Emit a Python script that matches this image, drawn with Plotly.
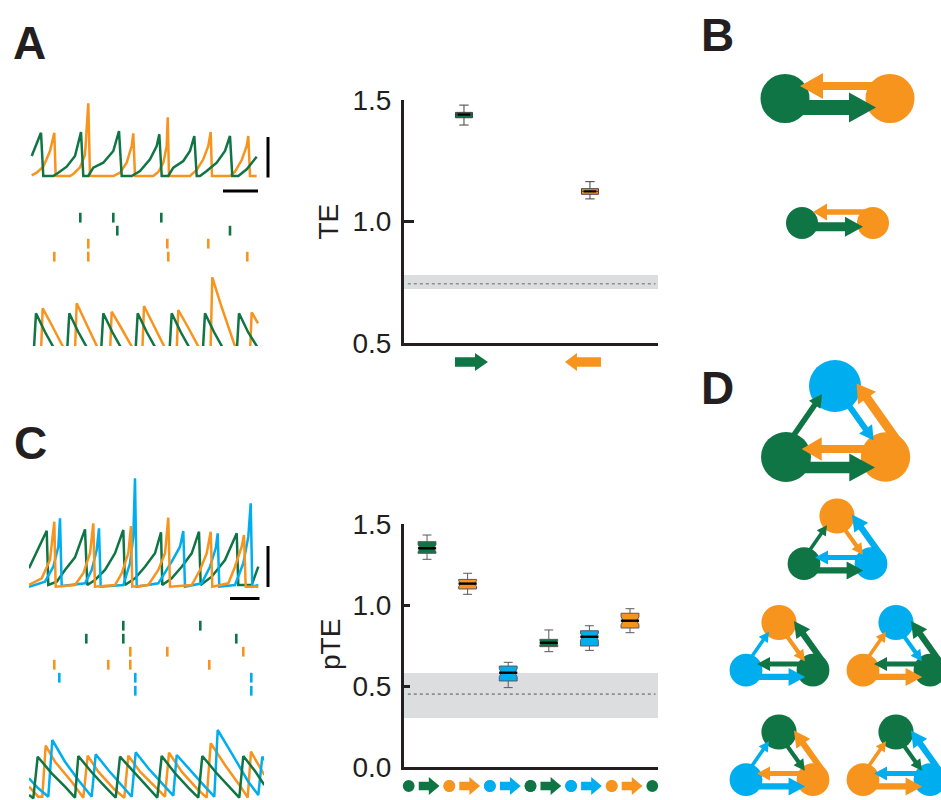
import plotly.graph_objects as go

W, H = 941, 800
GREEN = '#107545'
ORANGE = '#F7941E'
BLUE = '#00AEEF'
INK = '#231F20'
FONT = 'Liberation Sans, Arial, Helvetica, sans-serif'

# ---------------- Panel A : voltage traces (time units, amplitude units) ----------------
a_top_green_t = [1.7, 11, 13.3, 23.3, 28.3, 36.7, 45, 51, 53.3, 58.3, 63.3, 73.3, 83.3, 89, 91.7, 101.7, 110, 120,
                 126.7, 129.3, 131.7, 138.3, 143.3, 153.3, 160, 164.3, 166.7, 170, 176.7, 186.7, 195, 200, 202.3,
                 208.3, 216.7, 226.7]
a_top_green_v = [20, 43.3, 0, 0, 3.3, 9.3, 20, 44, 0, 0, 8.3, 13.3, 25, 45, 0, 0, 5, 16.7,
                 30, 41.7, 0, 0, 8.3, 15, 25, 40, 0, 0, 5, 13.3, 25, 40, 0,
                 0, 6.7, 19.3]
a_top_orange_t = [1.7, 6.7, 13.3, 20, 24.3, 25.7, 40, 43.3, 50, 55, 58.3, 60, 83.3, 90, 96.7, 101.7, 103.3, 105,
                  123.3, 128.3, 133.3, 136.7, 137.7, 139, 160, 166.7, 173.3, 178.3, 180.7, 182, 200, 205, 211.7,
                  216.7, 218.3, 220, 226.7]
a_top_orange_v = [0.7, 3.3, 9.3, 25, 43.3, 0, 0, 2, 8.7, 21, 72.6, 0, 0, 3.3, 13.3, 30, 42.7, 0,
                  0, 4, 13.3, 30, 58.7, 0, 0, 6, 16.7, 30, 44, 0, 0, 4.3, 16,
                  30, 40, 0, 0]

a_bot_green_t = [3.3, 6, 15, 25, 36.6, 39.3, 48.3, 58.3, 70.6, 73.3, 82.3, 92.3, 105, 107.7, 116.7, 126.7,
                 139, 141.7, 150.7, 160.7, 172.3, 175, 184, 194, 206.3, 209, 218, 228]
a_bot_green_v = [-14, 32.7, 14, -4, -14, 32.7, 14, -4, -14, 32.7, 14, -4, -14, 32.7, 14, -4,
                 -14, 32.7, 14, -4, -14, 32.7, 14, -4, -14, 32.7, 14, -2]
a_bot_orange_t = [10.7, 12.7, 21.7, 34.7, 44.7, 46.7, 55.7, 68.7, 79.7, 81.7, 90.7, 103.7, 112, 114, 123, 136,
                  146.3, 148.3, 157.3, 170.3, 180.3, 182.3, 191.3, 206.3, 219.7, 221.7, 228]
a_bot_orange_v = [-14, 37.7, 21, -4, -14, 42.7, 23.5, -4, -14, 34.3, 19, -4, -14, 40, 22, -4,
                  -14, 36, 20, -4, -14, 68.7, 40, -4, -14, 33.7, 22.7]

# spike rasters (time units), two trials per neuron
a_raster_times = [[50.3, 83.3, 131.3], [87.3, 200], [58.3, 137.3, 178.3], [24.3, 58.3, 138.3, 217.3]]
a_raster_colors = [GREEN, GREEN, ORANGE, ORANGE]

# ---------------- Panel A : TE box plot ----------------
a_q1 = [1.427, 1.112]
a_med = [1.440, 1.124]
a_q3 = [1.449, 1.135]
a_lo = [1.397, 1.093]
a_hi = [1.479, 1.164]
a_box_colors = [GREEN, ORANGE]
a_band = [0.722, 0.780]
a_null = 0.744
a_ticks = [0.5, 1.0, 1.5]

# ---------------- Panel C : voltage traces ----------------
c_top_green_t = [-1, 16.7, 18.3, 26.7, 35, 45, 55, 57.3, 65, 75, 85, 93.3, 95, 105, 115, 125, 131, 132.3, 141.7,
                 151.7, 161.7, 169, 170.7, 181.7, 195, 206.7, 208.3, 221.7, 228.3]
c_top_green_v = [17.7, 55.3, 1, 4.3, 16, 28.7, 56.7, 1, 6, 16, 32.7, 56, 1, 7.7, 19.3, 32.7, 53.7, 1, 7.7,
                 19.3, 32.7, 54.3, 1, 9.3, 26, 52.7, 1, 1, 19.3]
c_top_orange_t = [-1, 11.7, 20, 24.3, 25.7, 45, 53.3, 60, 63.3, 65, 85, 91.7, 98.3, 101, 102.3, 118.3, 128.3, 135,
                  138.3, 140, 161.7, 170, 176.7, 180.7, 182.3, 198.3, 205, 211.7, 214, 215.7, 228.3]
c_top_orange_v = [1, 7.7, 26, 64.3, -0.7, 1, 12.7, 32.7, 62.7, -0.7, 1, 12.7, 32.7, 60, -0.7, 1, 16, 32.7,
                  68.3, -0.7, 1, 16, 32.7, 54.3, -0.7, 2.7, 19.3, 39.3, 51, -0.7, -0.7]
c_top_blue_t = [-1, 15, 23.3, 28.3, 30, 31.7, 55, 61.7, 66.7, 69, 70.7, 93.3, 100, 103.3, 105, 106.7, 128.3, 141.7,
                150, 153.3, 155, 171.7, 180, 185.7, 187.7, 189.3, 205, 213.3, 218.3, 220.7, 222.3, 228.3]
c_top_blue_v = [-0.7, 4.3, 19.3, 39.3, 67.7, 0, 2.7, 16, 36, 57.7, -0.7, 1, 22.7, 49.3, 107.7, -0.7, 2.7, 24.3,
                39.3, 55, -0.7, 2.7, 19.3, 37.7, 52.7, -0.7, 1, 22.7, 49.3, 82.7, -0.7, 1]

c_bot_green_t = [-1, 3.3, 7.7, 21.7, 35, 45, 48.3, 61.7, 75, 85.7, 90, 105, 118.3, 127.3, 131.7, 145, 158.3,
                 168.3, 172.3, 186.7, 200, 209.3, 213.3, 225, 234.3]
c_bot_green_v = [5, 1.7, 43.3, 26.7, 13.3, 2.3, 44, 27.7, 13.3, 2.3, 43.3, 26.7, 12.3, 2.3, 44, 26.7, 12.3,
                 2.3, 44, 26.7, 12.3, 2.3, 44, 29, 15]
c_bot_orange_t = [-1, 8.3, 12.3, 15.7, 25, 41.7, 53.3, 57.7, 68.3, 85, 94.3, 98.3, 110, 128.3, 135, 139, 151.7,
                  168.3, 176.7, 180.7, 195, 211.7, 217.7, 221, 228.3, 234.3]
c_bot_orange_v = [13.3, 3.3, 3.3, 54.3, 38.3, 18.3, 2.3, 44.3, 28.3, 10, 2.3, 44.3, 28.3, 10, 3.3, 47.3, 28.3,
                  10, 2.3, 56.7, 35, 11.7, 2.3, 48.3, 35, 25]
c_bot_blue_t = [-1, 8.3, 18.3, 22.3, 35, 48.3, 61.7, 65.7, 78.3, 95, 101.7, 105.7, 118.3, 135, 143.3, 146.7,
                158.3, 175, 184.3, 187.7, 201.7, 218.3, 228.3, 232.3, 234.3]
c_bot_blue_v = [21.7, 11.7, 3.3, 60, 38.3, 20, 3.3, 45.7, 30, 11.7, 3.3, 47.7, 31.7, 13.3, 4.3, 45,
                31.7, 13.3, 3.3, 70, 46.7, 18.3, 5, 43.3, 40]

c_raster_times = [[93.3, 170.3], [56.3, 93.3, 206.3], [100.3, 137.3, 213.3], [24.3, 78.3, 100.3, 179.3],
                  [29.3, 105.3, 221.3], [105.3, 221.3]]
c_raster_colors = [GREEN, GREEN, ORANGE, ORANGE, BLUE, BLUE]

# ---------------- Panel C : pTE box plot ----------------
c_q1 = [1.319, 1.099, 0.531, 0.743, 0.747, 0.858]
c_med = [1.350, 1.132, 0.582, 0.767, 0.804, 0.903]
c_q3 = [1.391, 1.158, 0.623, 0.788, 0.841, 0.949]
c_lo = [1.282, 1.066, 0.490, 0.712, 0.720, 0.829]
c_hi = [1.432, 1.196, 0.646, 0.846, 0.872, 0.977]
c_notch = [0.022, 0.018, 0.025, 0.012, 0.022, 0.025]
c_src = [GREEN, ORANGE, BLUE, GREEN, BLUE, ORANGE]
c_tgt = [ORANGE, BLUE, GREEN, BLUE, ORANGE, GREEN]
c_band = [0.302, 0.580]
c_null = 0.45
c_ticks = [0.0, 0.5, 1.0, 1.5]

# ---------------- layout helpers (pixel frame) ----------------
def xd(a, b):
    return [a / W, b / W]


def yd(top, bottom):
    return [1 - bottom / H, 1 - top / H]


A_BOX_XR = [-0.476, 1.54]
C_BOX_XR = [-0.567, 5.69]
BOX_X_PX = [404, 658]

fig = go.Figure()


def add_line(t, v, color, ax):
    fig.add_trace(go.Scatter(x=t, y=v, mode='lines', line=dict(color=color, width=2.5),
                             xaxis='x' + ax, yaxis='y' + ax, hoverinfo='skip', showlegend=False))


def add_raster(times_list, colors, ax):
    for i, (times, col) in enumerate(zip(times_list, colors)):
        fig.add_trace(go.Scatter(x=times, y=[i + 1] * len(times), mode='markers',
                                 marker=dict(symbol='line-ns', size=7, line=dict(color=col, width=2.6)),
                                 xaxis='x' + ax, yaxis='y' + ax, hoverinfo='skip', showlegend=False))


# Panel A traces
add_line(a_top_orange_t, a_top_orange_v, ORANGE, '')
add_line(a_top_green_t, a_top_green_v, GREEN, '')
add_raster(a_raster_times, a_raster_colors, '2')
add_line(a_bot_orange_t, a_bot_orange_v, ORANGE, '3')
add_line(a_bot_green_t, a_bot_green_v, GREEN, '3')

# Panel C traces
add_line(c_top_green_t, c_top_green_v, GREEN, '5')
add_line(c_top_blue_t, c_top_blue_v, BLUE, '5')
add_line(c_top_orange_t, c_top_orange_v, ORANGE, '5')
add_raster(c_raster_times, c_raster_colors, '6')
add_line(c_bot_orange_t, c_bot_orange_v, ORANGE, '7')
add_line(c_bot_blue_t, c_bot_blue_v, BLUE, '7')
add_line(c_bot_green_t, c_bot_green_v, GREEN, '7')

# Box plots
for i in range(len(a_med)):
    fig.add_trace(go.Box(x=[i], q1=[a_q1[i]], median=[a_med[i]], q3=[a_q3[i]], lowerfence=[a_lo[i]],
                         upperfence=[a_hi[i]], fillcolor=a_box_colors[i], line=dict(color='#414042', width=1),
                         width=0.135, whiskerwidth=0.55, boxpoints=False, xaxis='x4', yaxis='y4',
                         hoverinfo='skip', showlegend=False))
fig.add_trace(go.Scatter(x=list(range(len(a_med))), y=a_med, mode='markers',
                         marker=dict(symbol='line-ew', size=9, line=dict(color='black', width=2.2)),
                         xaxis='x4', yaxis='y4', hoverinfo='skip', showlegend=False))

for i in range(len(c_med)):
    fig.add_trace(go.Box(x=[i], q1=[c_q1[i]], median=[c_med[i]], q3=[c_q3[i]], lowerfence=[c_lo[i]],
                         upperfence=[c_hi[i]], notched=True, notchspan=[c_notch[i]], notchwidth=0.12,
                         fillcolor=c_src[i], line=dict(color='#58595B', width=1),
                         width=0.44, whiskerwidth=0.5, boxpoints=False, xaxis='x8', yaxis='y8',
                         hoverinfo='skip', showlegend=False))
fig.add_trace(go.Scatter(x=list(range(len(c_med))), y=c_med, mode='markers',
                         marker=dict(symbol='line-ew', size=13, line=dict(color='black', width=2.4)),
                         xaxis='x8', yaxis='y8', hoverinfo='skip', showlegend=False))

# ---------------- shapes ----------------
shapes = []
for ax, band, null in (('4', a_band, a_null), ('8', c_band, c_null)):
    shapes.append(dict(type='rect', xref='x' + ax + ' domain', yref='y' + ax, x0=0, x1=1, y0=band[0], y1=band[1],
                       fillcolor='#DCDDDE', line=dict(width=0), layer='below'))
    shapes.append(dict(type='line', xref='x' + ax + ' domain', yref='y' + ax, x0=0.015, x1=0.99, y0=null, y1=null,
                       line=dict(color='#8C8E90', width=1.6, dash='dot'), layer='below'))


def px_shape(**kw):
    kw.update(xref='x9', yref='y9')
    shapes.append(kw)


def circle(cx, cy, r, color):
    px_shape(type='circle', x0=cx - r, x1=cx + r, y0=cy - r, y1=cy + r, fillcolor=color, line=dict(width=0))


def arrow(x0, y0, x1, y1, color, w, hw, hl, off=0.0):
    dx, dy = x1 - x0, y1 - y0
    L = (dx * dx + dy * dy) ** 0.5
    ux, uy = dx / L, dy / L
    nx, ny = -uy, ux
    sx, sy = x0 + nx * off, y0 + ny * off
    tx, ty = x1 + nx * off, y1 + ny * off
    bx, by = tx - ux * hl, ty - uy * hl
    pts = [(sx + nx * w / 2, sy + ny * w / 2), (bx + nx * w / 2, by + ny * w / 2), (bx + nx * hw, by + ny * hw),
           (tx, ty), (bx - nx * hw, by - ny * hw), (bx - nx * w / 2, by - ny * w / 2),
           (sx - nx * w / 2, sy - ny * w / 2)]
    path = 'M ' + ' L '.join(f'{x:.2f},{y:.2f}' for x, y in pts) + ' Z'
    px_shape(type='path', path=path, fillcolor=color, line=dict(width=0))


def edge(src, dst, color, off, w, hw, hl, gap):
    (x0, y0), (x1, y1) = src, dst
    dx, dy = x1 - x0, y1 - y0
    L = (dx * dx + dy * dy) ** 0.5
    ex, ey = x1 - dx / L * gap, y1 - dy / L * gap
    arrow(x0, y0, ex, ey, color, w, hw, hl, off)


# scale bars (pixel frame)
px_shape(type='line', x0=268, x1=268, y0=137, y1=177.5, line=dict(color='black', width=3))
px_shape(type='line', x0=223, x1=258, y0=191, y1=191, line=dict(color='black', width=3))
px_shape(type='line', x0=268, x1=268, y0=546, y1=587, line=dict(color='black', width=3))
px_shape(type='line', x0=230, x1=259.5, y0=598.5, y1=598.5, line=dict(color='black', width=3))


def box_px(i, xr):
    return BOX_X_PX[0] + (i - xr[0]) / (xr[1] - xr[0]) * (BOX_X_PX[1] - BOX_X_PX[0])


# panel A category icons (direction arrows)
g0 = box_px(0, A_BOX_XR)
o1 = box_px(1, A_BOX_XR)
arrow(g0 - 9, 362, g0 + 24, 362, GREEN, 9.3, 9, 13)
arrow(o1 + 11, 362, o1 - 25, 362, ORANGE, 9.3, 9, 12)

# panel C category icons (source circle -> arrow -> target circle)
for i in range(len(c_med)):
    cx = box_px(i, C_BOX_XR) + 2
    circle(cx - 20.3, 786, 5.9, c_src[i])
    circle(cx + 20.3, 786, 5.9, c_tgt[i])
    arrow(cx - 10.3, 786, cx + 10.5, 786, c_src[i], 8.3, 9, 10.7)

# ---------------- network diagrams (B, D) ----------------
# two-node motifs: (left center, right center, radius, left->right spec, right->left spec)
pair_nodes = [((785, 98.5), (890, 98.5), 24.5), ((802, 223), (873, 223), 16)]
pair_lr = [(9, 15, 15, 27, 14), (3.7, 9, 10, 18, 10)]
pair_rl = [(12.5, 8, 13, 23, 15), (11, 5.5, 8.5, 14, 11)]
for (lc, rc, r), lr, rl in zip(pair_nodes, pair_lr, pair_rl):
    circle(lc[0], lc[1], r, GREEN)
    circle(rc[0], rc[1], r, ORANGE)
    edge(rc, lc, ORANGE, *rl)
    edge(lc, rc, GREEN, *lr)

# triangle motifs: nodes top / left / right
tri_tops = [(835, 386), (837, 516), (779, 622.5), (896, 622.5), (779, 732), (896, 732)]
tri_colors = [(BLUE, GREEN, ORANGE), (ORANGE, GREEN, BLUE), (ORANGE, BLUE, GREEN),
              (BLUE, ORANGE, GREEN), (GREEN, BLUE, ORANGE), (GREEN, ORANGE, BLUE)]
# edge specs: (offset, shaft width, head half-width, head length, tip gap)
big_specs = {'LR': (10.5, 11.7, 14, 25.7, 10.5), 'RL': (8, 8, 11.7, 20, 15.7), 'LT': (-6, 5.5, 7, 13, 14),
             'TR': (0, 6, 8, 14, 20.4), 'RT': (19, 9, 11, 18, 10.5)}
small_specs = {'LR': (6.7, 6.2, 9, 16.7, 7.7), 'RL': (6.2, 5.2, 7, 13, 11), 'LT': (-3, 3.6, 5.5, 10, 13.3),
               'TR': (1.5, 4.2, 6, 11, 12), 'RT': (13, 6.2, 8.5, 16, 7.5)}
for k, ((tx, ty), (ct, cl, cr)) in enumerate(zip(tri_tops, tri_colors)):
    if k == 0:
        T, Lp, R = (tx, ty), (786, 457), (885.5, 457)
        rT, rL, rR = 26, 25, 24.7
        sp = big_specs
    else:
        T, Lp, R = (tx, ty), (tx - 33, ty + 47.7), (tx + 34, ty + 47.7)
        rT, rL, rR = 17.6, 16.4, 16.4
        sp = small_specs
    circle(T[0], T[1], rT, ct)
    circle(Lp[0], Lp[1], rL, cl)
    circle(R[0], R[1], rR, cr)
    edge(Lp, T, cl, *sp['LT'])
    edge(T, R, ct, *sp['TR'])
    edge(R, T, cr, *sp['RT'])
    edge(R, Lp, cr, *sp['RL'])
    edge(Lp, R, cl, *sp['LR'])

# ---------------- annotations ----------------
annotations = []
for lab, x, y in (('A', 29.5, 43.5), ('B', 717.5, 35), ('C', 30, 442.5), ('D', 717.5, 387.5)):
    annotations.append(dict(text='<b>' + lab + '</b>', x=x / W, y=1 - y / H, xref='paper', yref='paper',
                            xanchor='center', yanchor='middle', showarrow=False,
                            font=dict(family=FONT, size=46, color=INK)))
for lab, x, y in (('TE', 328, 221.5), ('pTE', 330, 645)):
    annotations.append(dict(text=lab, x=x / W, y=1 - y / H, xref='paper', yref='paper', textangle=-90,
                            xanchor='center', yanchor='middle', showarrow=False,
                            font=dict(family=FONT, size=28, color=INK)))

hidden = dict(visible=False, fixedrange=True, showgrid=False, zeroline=False, automargin=False)


def box_x(dom, rng, anchor):
    return dict(domain=dom, range=rng, anchor=anchor, showline=True, linewidth=3, linecolor=INK, ticks='',
                showticklabels=False, showgrid=False, zeroline=False, fixedrange=True, automargin=False)


def box_y(dom, rng, anchor, ticks, ticklen):
    return dict(domain=dom, range=rng, anchor=anchor, showline=True, linewidth=3, linecolor=INK,
                ticks='inside', ticklen=ticklen, tickwidth=3, tickcolor=INK, tickvals=ticks,
                ticktext=[f'{t:.1f}' for t in ticks], tickfont=dict(family=FONT, size=28, color=INK),
                ticklabelstandoff=4, showgrid=False, zeroline=False, fixedrange=True, automargin=False)


fig.update_layout(
    width=W, height=H, autosize=False, margin=dict(l=0, r=0, t=0, b=0, pad=0, autoexpand=False),
    paper_bgcolor='white', plot_bgcolor='rgba(0,0,0,0)', showlegend=False, dragmode=False,
    font=dict(family=FONT, color=INK),
    xaxis=dict(domain=xd(30, 260), range=[0, 230], anchor='y', **hidden),
    yaxis=dict(domain=yd(92, 182), range=[-6, 84], anchor='x', **hidden),
    xaxis2=dict(domain=xd(30, 260), range=[0, 230], anchor='y2', **hidden),
    yaxis2=dict(domain=yd(210, 265), range=[4.64, 0.41], anchor='x2', **hidden),
    xaxis3=dict(domain=xd(30, 260), range=[0, 230], anchor='y3', **hidden),
    yaxis3=dict(domain=yd(270, 346), range=[0, 76], anchor='x3', **hidden),
    xaxis4=box_x(xd(404, 658), A_BOX_XR, 'y4'),
    yaxis4=box_y(yd(100, 343), [0.5, 1.5], 'x4', a_ticks, 10),
    xaxis5=dict(domain=xd(29, 264), range=[-1, 234], anchor='y5', **hidden),
    yaxis5=dict(domain=yd(472, 590), range=[-4, 114], anchor='x5', **hidden),
    xaxis6=dict(domain=xd(29, 264), range=[-1, 234], anchor='y6', **hidden),
    yaxis6=dict(domain=yd(618, 697), range=[6.48, 0.41], anchor='x6', **hidden),
    xaxis7=dict(domain=xd(29, 264), range=[-1, 234], anchor='y7', **hidden),
    yaxis7=dict(domain=yd(722, 800), range=[0, 78], anchor='x7', **hidden),
    xaxis8=box_x(xd(404, 658), C_BOX_XR, 'y8'),
    yaxis8=box_y(yd(524, 767), [0, 1.5], 'x8', c_ticks, 6),
    xaxis9=dict(domain=[0, 1], range=[0, W], anchor='y9', **hidden),
    yaxis9=dict(domain=[0, 1], range=[H, 0], anchor='x9', **hidden),
    shapes=shapes, annotations=annotations,
)

fig.write_html('out.html', config={'displayModeBar': False, 'staticPlot': True},
               post_script="document.body.style.margin='0';")
